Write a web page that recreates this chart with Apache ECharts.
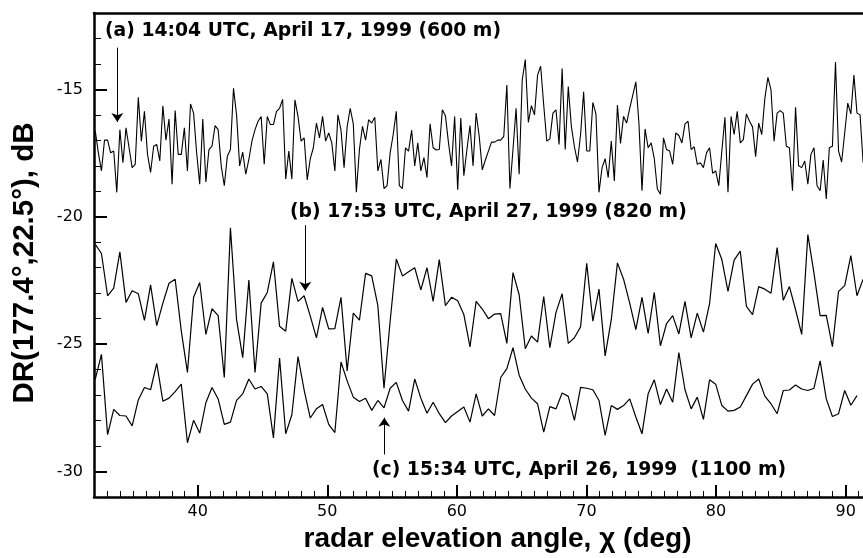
<!DOCTYPE html>
<html>
<head>
<meta charset="utf-8">
<script src="https://cdn.jsdelivr.net/npm/echarts@6/dist/echarts.min.js"></script>
<style>
html, body { margin: 0; padding: 0; background: #fff; }
#mainchart { width: 863px; height: 558px; }
</style>
</head>
<body>
<div id="mainchart"></div>
<script>
// DR values, dB
var seriesA = [
	-16.64, -17.49, -18.20, -16.99, -16.99, -17.49, -17.42, -19.04, -16.58, -17.88, -16.51, -17.29, -18.07, -17.94,
	-15.31, -17.03, -15.86, -17.55, -18.26, -17.23, -17.16, -17.81, -15.64, -16.99, -16.16, -18.72, -15.83, -17.55,
	-17.55, -16.51, -18.20, -15.57, -15.93, -17.49, -18.72, -16.16, -18.63, -17.36, -17.23, -16.42, -16.58, -18.00,
	-18.78, -17.62, -17.36, -14.96, -16.00, -18.00, -17.46, -18.33, -17.75, -17.03, -16.58, -16.25, -16.06, -17.94,
	-16.06, -16.38, -16.38, -15.86, -15.74, -15.39, -18.52, -17.42, -18.52, -15.41, -16.06, -17.03, -16.90, -18.55,
	-17.72, -17.29, -16.32, -16.90, -16.06, -17.03, -16.71, -17.10, -18.20, -16.00, -16.60, -18.07, -16.47, -15.74,
	-16.35, -19.04, -17.36, -16.45, -16.99, -16.19, -16.32, -16.09, -18.20, -17.75, -18.89, -18.78, -17.49, -16.77,
	-15.86, -18.78, -18.89, -17.29, -17.42, -16.60, -18.00, -17.10, -18.20, -17.68, -18.46, -16.35, -17.29, -17.38,
	-17.36, -15.80, -16.03, -17.10, -18.00, -16.06, -18.94, -16.12, -18.39, -17.36, -16.42, -18.00, -15.93, -16.84,
	-18.16, -17.77, -17.42, -17.07, -17.07, -16.99, -16.99, -16.84, -14.83, -18.89, -17.36, -15.74, -18.33, -14.63,
	-13.83, -16.29, -15.64, -16.00, -14.44, -14.09, -15.61, -17.03, -16.94, -15.93, -15.80, -17.16, -14.18, -17.36,
	-14.89, -16.45, -17.25, -17.85, -16.77, -15.09, -17.42, -17.42, -15.51, -15.96, -19.04, -18.07, -17.72,
	-18.46, -17.03, -18.59, -15.61, -17.12, -16.06, -16.32, -15.74, -15.22, -14.70, -16.32, -18.98, -16.55, -17.29,
	-17.10, -17.72, -18.91, -19.11, -16.90, -17.36, -17.42, -17.94, -16.71, -16.81, -17.10, -16.35, -16.25, -17.36,
	-17.25, -17.94, -17.88, -18.07, -17.49, -17.29, -18.29, -18.20, -18.78, -17.42, -16.09, -19.04, -16.06, -16.77,
	-15.86, -17.10, -16.97, -15.96, -16.25, -16.47, -17.64, -16.32, -16.77, -15.35, -14.53, -15.02, -17.03, -15.93,
	-15.83, -15.93, -17.23, -17.29, -18.98, -15.70, -18.00, -18.07, -17.81, -18.72, -17.55, -17.29, -18.78, -18.98,
	-17.77, -19.30, -17.29, -17.23, -13.92, -17.42, -17.85, -16.71, -15.54, -15.96, -14.44, -15.93, -16.00, -17.88
];
var seriesB = [
	-21.08, -21.44, -23.10, -22.80, -21.38, -23.36, -22.90, -23.02, -24.07, -22.67, -24.27, -23.39, -22.61, -22.45,
	-24.49, -26.11, -23.16, -22.58, -24.62, -23.61, -23.88, -26.31, -20.43, -24.04, -25.53, -22.48, -26.11, -23.39,
	-22.97, -21.77, -24.30, -24.49, -22.42, -23.32, -23.10, -23.90, -24.75, -23.56, -24.40, -24.39, -23.16, -26.05,
	-23.78, -24.06, -22.22, -22.32, -23.49, -26.73, -24.10, -21.66, -22.32, -22.16, -22.00, -22.87, -22.00, -23.32,
	-21.68, -23.49, -23.16, -23.30, -23.84, -25.11, -23.32, -23.62, -24.00, -23.82, -23.80, -24.97, -22.19, -23.06,
	-25.18, -24.68, -24.92, -23.13, -25.14, -23.75, -23.02, -24.97, -24.75, -24.32, -21.83, -24.10, -22.84, -25.46,
	-24.04, -21.81, -22.45, -23.39, -24.43, -23.16, -24.58, -22.97, -25.07, -24.19, -23.88, -24.60, -23.32, -24.75,
	-23.78, -24.53, -23.41, -21.05, -21.68, -22.93, -21.70, -21.35, -23.52, -23.84, -22.74, -22.84, -23.00, -21.21,
	-23.28, -22.74, -23.65, -24.62, -20.70, -22.22, -23.88, -23.87, -25.10, -22.93, -22.70, -21.52, -23.10, -22.45
];
var seriesC = [
	-26.37, -25.40, -28.55, -27.56, -27.80, -27.82, -28.21, -27.19, -26.70, -26.79, -25.75, -27.24, -27.12, -26.86,
	-26.57, -28.87, -27.99, -28.49, -27.30, -26.70, -27.15, -28.15, -28.06, -27.21, -26.95, -26.37, -26.76, -26.66,
	-26.95, -28.68, -25.55, -28.52, -27.77, -25.49, -26.80, -27.90, -27.54, -27.37, -28.15, -28.47, -25.70, -26.44,
	-27.08, -27.25, -27.12, -27.60, -27.21, -27.50, -26.73, -26.50, -27.21, -27.63, -26.37, -27.12, -27.71, -27.28,
	-27.73, -28.08, -27.82, -27.64, -27.47, -28.06, -26.95, -27.82, -27.54, -27.80, -26.31, -25.96, -25.14, -26.22,
	-26.76, -27.12, -27.34, -28.45, -27.45, -27.54, -26.92, -27.05, -27.99, -26.70, -26.73, -26.79, -27.21, -28.58,
	-27.41, -27.56, -27.41, -27.15, -27.86, -28.52, -26.95, -26.40, -27.37, -26.76, -27.28, -25.33, -26.79, -27.54,
	-27.08, -27.95, -26.40, -26.57, -27.41, -27.63, -27.60, -27.47, -27.02, -26.57, -26.37, -27.04, -27.34, -27.73,
	-26.82, -26.80, -26.60, -26.76, -26.82, -26.73, -25.66, -27.15, -27.84, -27.73, -26.82, -27.40, -27.02
];
// sampling of the elevation angle, deg
var startAngle = 32.1;
var stepA = 0.237;
var stepBC = 0.474;

var xMajor = [40, 50, 60, 70, 80, 90];
var yMajor = [-30, -25, -20, -15];

var labelA = '(a) 14:04 UTC, April 17, 1999 (600 m)';
var labelB = '(b) 17:53 UTC, April 27, 1999 (820 m)';
var labelC = '(c) 15:34 UTC, April 26, 1999  (1100 m)';
var arrowA = [[33.8, -13.36], [33.8, -16.28]];
var arrowB = [[48.3, -20.33], [48.3, -22.9]];
var arrowC = [[54.4, -29.33], [54.4, -27.89]];

var xMin = 32, xMax = 91.34, yMin = -31, yMax = -12;

function toPairs(vals, step) {
	return vals.map(function (v, i) { return [startAngle + i * step, v]; });
}
var xMinor = [], yMinor = [];
for (var i = 32; i <= 91; i++) xMinor.push(i);
for (var j = -31; j <= -12; j++) yMinor.push(j);

var black = '#000';
var tickFont = { color: black, fontFamily: 'DejaVu Sans', fontSize: 16 };
var noteFont = 'bold 18.8px "DejaVu Sans"';

function arrowLine(a) {
	return {
		silent: true,
		animation: false,
		symbol: ['none', 'arrow'],
		symbolSize: 9,
		label: { show: false },
		lineStyle: { color: black, width: 1, type: 'solid' },
		emphasis: { disabled: true },
		data: [[{ coord: a[0] }, { coord: a[1] }]]
	};
}
function lineSeries(name, data, width, arrow) {
	return {
		name: name,
		type: 'line',
		data: data,
		showSymbol: false,
		symbol: 'none',
		clip: true,
		lineStyle: { color: black, width: width },
		emphasis: { disabled: true },
		markLine: arrowLine(arrow)
	};
}

var chart = echarts.init(document.getElementById('mainchart'));
var option = {
	animation: false,
	backgroundColor: '#fff',
	grid: { left: 94, right: 0, top: 13, bottom: 57 },
	xAxis: [{
		type: 'value', min: xMin, max: xMax, position: 'bottom',
		name: 'radar elevation angle, χ (deg)', nameLocation: 'middle', nameGap: 28,
		nameTextStyle: { color: black, fontFamily: 'Liberation Sans', fontWeight: 'bold', fontSize: 28, padding: [0, 0, 0, 38] },
		axisLine: { onZero: false, lineStyle: { color: black, width: 2.5 } },
		axisTick: { inside: true, length: 6, customValues: xMinor, lineStyle: { color: black, width: 1 } },
		axisLabel: Object.assign({ customValues: xMajor, margin: 7 }, tickFont),
		splitLine: { show: false }
	}, {
		type: 'value', min: xMin, max: xMax, position: 'bottom',
		axisLine: { show: false },
		axisTick: { inside: true, length: 12, customValues: xMajor, lineStyle: { color: black, width: 2 } },
		axisLabel: { show: false },
		splitLine: { show: false }
	}, {
		type: 'value', min: xMin, max: xMax, position: 'top',
		axisLine: { onZero: false, lineStyle: { color: black, width: 2.5 } },
		axisTick: { show: false },
		axisLabel: { show: false },
		splitLine: { show: false }
	}],
	yAxis: [{
		type: 'value', min: yMin, max: yMax, position: 'left',
		name: 'DR(177.4°,22.5°), dB', nameLocation: 'middle', nameGap: 54, nameRotate: 90,
		nameTextStyle: { color: black, fontFamily: 'Liberation Sans', fontWeight: 'bold', fontSize: 29.5, padding: [0, 16, 0, 0] },
		axisLine: { onZero: false, lineStyle: { color: black, width: 2.5 } },
		axisTick: { inside: true, length: 7, customValues: yMinor, lineStyle: { color: black, width: 1 } },
		axisLabel: Object.assign({ customValues: yMajor, margin: 11 }, tickFont),
		splitLine: { show: false }
	}, {
		type: 'value', min: yMin, max: yMax, position: 'left',
		axisLine: { show: false },
		axisTick: { inside: true, length: 13, customValues: yMajor, lineStyle: { color: black, width: 2 } },
		axisLabel: { show: false },
		splitLine: { show: false }
	}],
	graphic: [
		{ type: 'text', x: 105, y: 31, silent: true, style: { text: labelA, font: noteFont, fill: black, align: 'left', verticalAlign: 'middle' } },
		{ type: 'text', x: 290, y: 212, silent: true, style: { text: labelB, font: noteFont, fill: black, align: 'left', verticalAlign: 'middle' } },
		{ type: 'text', x: 372, y: 470, silent: true, style: { text: labelC, font: noteFont, fill: black, align: 'left', verticalAlign: 'middle' } }
	],
	series: [
		lineSeries('a', toPairs(seriesA, stepA), 1.1, arrowA),
		lineSeries('b', toPairs(seriesB, stepBC), 1.2, arrowB),
		lineSeries('c', toPairs(seriesC, stepBC), 1.2, arrowC)
	]
};
chart.setOption(option);
</script>
</body>
</html>
